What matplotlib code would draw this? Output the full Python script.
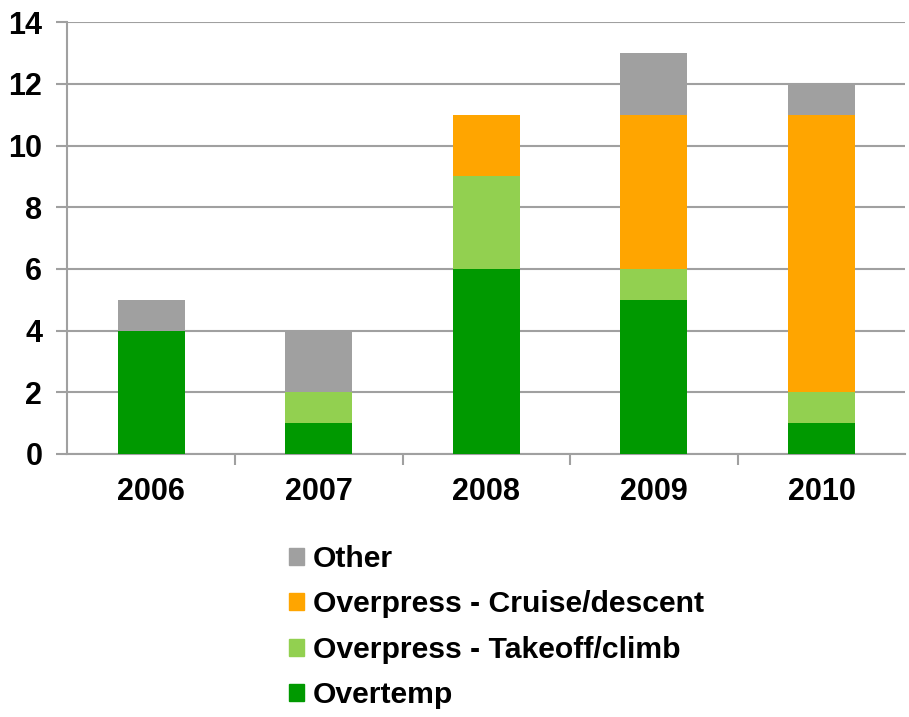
import numpy as np
import matplotlib.pyplot as plt
from matplotlib.patches import Patch

years = ["2006", "2007", "2008", "2009", "2010"]
overtemp = [4, 1, 6, 5, 1]
takeoff_climb = [0, 1, 3, 1, 1]
cruise_descent = [0, 0, 2, 5, 9]
other = [1, 2, 0, 2, 1]

series_names = ["Overtemp", "Overpress - Takeoff/climb",
                "Overpress - Cruise/descent", "Other"]
colors = ["#009900", "#92D050", "#FFA500", "#A0A0A0"]
grid_color = "#A0A0A0"


def main():
    plt.rcParams["font.family"] = ["Liberation Sans", "DejaVu Sans"]
    fig = plt.figure(figsize=(9.09, 7.17), dpi=100)
    ax = fig.add_axes([0.074, 0.367, 0.922, 0.602])

    x = np.arange(len(years))
    bottom = np.zeros(len(years))
    for vals, color in zip([overtemp, takeoff_climb, cruise_descent, other], colors):
        ax.bar(x, vals, width=0.4, bottom=bottom, color=color, zorder=3)
        bottom += np.array(vals)

    ax.set_xlim(-0.5, len(years) - 0.5)
    ax.set_ylim(0, 14)
    ax.set_yticks(range(0, 15, 2))
    ax.yaxis.grid(True, color=grid_color, linewidth=1.5, zorder=0)

    ax.set_xticks(x)
    ax.set_xticklabels(years, fontsize=22, fontweight="bold")
    ax.set_xticks(np.arange(0.5, len(years) - 0.5, 1), minor=True)
    ax.tick_params(axis="x", which="major", length=0, pad=17)
    ax.tick_params(axis="x", which="minor", length=8, width=1.5, color=grid_color)
    ax.tick_params(axis="y", length=8, width=1.5, color=grid_color, pad=10)
    for lab in ax.get_yticklabels():
        lab.set_fontsize(22)
        lab.set_fontweight("bold")

    for side in ["top", "right"]:
        ax.spines[side].set_visible(False)
    for side in ["left", "bottom"]:
        ax.spines[side].set_color(grid_color)
        ax.spines[side].set_linewidth(1.5)

    handles = [Patch(color=c, label=n) for c, n in zip(colors, series_names)][::-1]
    fig.legend(handles=handles, loc="upper left", bbox_to_anchor=(0.318, 0.240),
               frameon=False, prop={"size": 21.7, "weight": "bold"},
               handlelength=0.5, handleheight=0.5, handletextpad=0.3,
               labelspacing=0.58, borderpad=0, borderaxespad=0)

    fig.savefig("out.png", dpi=100)


if __name__ == "__main__":
    main()
